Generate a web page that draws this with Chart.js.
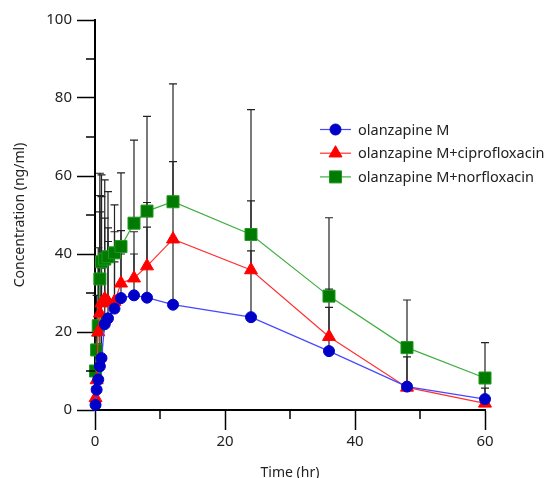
<!DOCTYPE html>
<html>
<head>
<meta charset="utf-8">
<script src="https://cdn.jsdelivr.net/npm/chart.js@4.4.1/dist/chart.umd.min.js"></script>
<style>
html, body { margin: 0; padding: 0; background: #fff; }
#wrap { width: 551px; height: 478px; }
</style>
</head>
<body>
<div id="wrap"><canvas id="pkChart" width="551" height="478"></canvas></div>
<script>
// sampling times (hr)
var times = [0.083, 0.25, 0.5, 0.75, 1, 1.5, 2, 3, 4, 6, 8, 12, 24, 36, 48, 60];

// mean concentrations (ng/ml)
var olzM = [1.3, 5.2, 7.8, 11.2, 13.3, 22, 23.5, 26, 28.7, 29.4, 28.8, 27, 23.8, 15.1, 6.0, 2.8];
var olzCipro = [3.1, 7.7, 20, 24.8, 27.4, 28.5, 27.8, 27.8, 32.5, 33.8, 36.9, 43.8, 35.9, 18.8, 5.8, 1.7];
var olzNorflo = [10, 15.4, 21.6, 33.6, 38, 38.7, 39.3, 40.3, 41.9, 47.9, 51, 53.4, 45, 29.2, 16, 8.2];

// SD (upper error bars only)
var sdM = [1.7, 4.8, 9.2, 39.6, 23.1, 16.5, 19.7, 12, 11.3, 10.6, 18.1, 17, 17, 11.2, 7.6, 2.8];
var sdCipro = [2.9, 6.3, 17.7, 30.2, 27.3, 20.7, 18.9, 17.9, 13.5, 11.9, 16.3, 19.9, 17.7, 12.2, 10.2, 7.8];
var sdNorflo = [9, 14, 20, 27.1, 22.3, 20.3, 16.7, 12.3, 18.9, 21.3, 24.3, 30.2, 32, 20.1, 12.2, 9.1];

var xTicks = [0, 20, 40, 60];
var xMinor = [10, 30, 50];
var yMinor = [10, 30, 50, 70, 90];

var fontFamily = '"Noto Sans", "Open Sans", sans-serif';

function pts(vals) {
    return times.map(function (t, i) { return { x: t, y: vals[i] }; });
}

var errorBars = {
    id: "errorBars",
    beforeDatasetsDraw: function (chart) {
        var ctx = chart.ctx;
        var yScale = chart.scales.y;
        ctx.save();
        ctx.strokeStyle = "#222";
        ctx.lineWidth = 1.2;
        chart.data.datasets.forEach(function (ds, i) {
            var meta = chart.getDatasetMeta(i);
            meta.data.forEach(function (p, j) {
                var top = yScale.getPixelForValue(ds.data[j].y + ds.sd[j]);
                ctx.beginPath();
                ctx.moveTo(p.x, p.y);
                ctx.lineTo(p.x, top);
                ctx.moveTo(p.x - 4, top);
                ctx.lineTo(p.x + 4, top);
                ctx.stroke();
            });
        });
        ctx.restore();
    },
};

var minorTicks = {
    id: "minorTicks",
    afterDraw: function (chart) {
        var ctx = chart.ctx;
        var xs = chart.scales.x, ys = chart.scales.y;
        var area = chart.chartArea;
        ctx.save();
        ctx.strokeStyle = "#000";
        ctx.lineWidth = 1.5;
        yMinor.forEach(function (v) {
            var y = ys.getPixelForValue(v);
            ctx.beginPath();
            ctx.moveTo(area.left - 9, y);
            ctx.lineTo(area.left, y);
            ctx.stroke();
        });
        xMinor.forEach(function (v) {
            var x = xs.getPixelForValue(v);
            ctx.beginPath();
            ctx.moveTo(x, area.bottom);
            ctx.lineTo(x, area.bottom + 9);
            ctx.stroke();
        });
        ctx.restore();
    },
};

var insideLegend = {
    id: "insideLegend",
    afterDraw: function (chart) {
        var ctx = chart.ctx;
        ctx.save();
        chart.data.datasets.forEach(function (ds, i) {
            var y = 129.5 + i * 23.7;
            ctx.strokeStyle = ds.borderColor;
            ctx.lineWidth = ds.borderWidth;
            ctx.beginPath();
            ctx.moveTo(320, y);
            ctx.lineTo(351, y);
            ctx.stroke();
            ctx.fillStyle = ds.pointBackgroundColor;
            ctx.strokeStyle = ds.pointBorderColor;
            ctx.lineWidth = 1;
            Chart.helpers.drawPoint(ctx, {
                pointStyle: ds.pointStyle,
                radius: ds.pointRadius,
                borderWidth: 1,
                rotation: 0,
            }, 335.5, y);
            ctx.fillStyle = "#222";
            ctx.font = "14.5px " + fontFamily;
            ctx.textBaseline = "middle";
            ctx.textAlign = "left";
            ctx.fillText(ds.label, 358, y + 1);
        });
        ctx.restore();
    },
};

var ctx = document.getElementById("pkChart").getContext("2d");

var pkChart = new Chart(ctx, {
    type: "line",
    data: {
        datasets: [
            {
                label: "olanzapine M",
                data: pts(olzM),
                sd: sdM,
                borderColor: "#4747ff",
                borderWidth: 1.2,
                pointStyle: "circle",
                pointRadius: 5.5,
                pointBackgroundColor: "#0000c8",
                pointBorderColor: "#0000c8",
                pointBorderWidth: 1,
                clip: false,
            },
            {
                label: "olanzapine M+ciprofloxacin",
                data: pts(olzCipro),
                sd: sdCipro,
                borderColor: "#ff3030",
                borderWidth: 1.2,
                pointStyle: "triangle",
                pointRadius: 7.5,
                pointBackgroundColor: "#ff0000",
                pointBorderColor: "#ff0000",
                pointBorderWidth: 1,
                clip: false,
            },
            {
                label: "olanzapine M+norfloxacin",
                data: pts(olzNorflo),
                sd: sdNorflo,
                borderColor: "#3fae3f",
                borderWidth: 1.2,
                pointStyle: "rect",
                pointRadius: 8.5,
                pointBackgroundColor: "#007a00",
                pointBorderColor: "#1f991f",
                pointBorderWidth: 1,
                clip: false,
            },
        ],
    },
    options: {
        responsive: false,
        animation: false,
        layout: {
            padding: { top: 20, right: 66, left: 0, bottom: 0 },
        },
        plugins: {
            legend: { display: false },
            tooltip: { enabled: false },
        },
        scales: {
            x: {
                type: "linear",
                min: 0,
                max: 60,
                afterFit: function (scale) { scale.height = 68; },
                afterBuildTicks: function (scale) {
                    scale.ticks = xTicks.map(function (v) { return { value: v }; });
                },
                border: { color: "#000", width: 2 },
                grid: {
                    drawOnChartArea: false,
                    drawTicks: true,
                    tickLength: 20,
                    tickColor: "#000",
                    tickWidth: 1.5,
                },
                ticks: {
                    color: "#222",
                    padding: 3,
                    maxRotation: 0,
                    font: { family: fontFamily, size: 15 },
                },
                title: {
                    display: true,
                    text: "Time (hr)",
                    color: "#222",
                    padding: { top: 0, bottom: -3 },
                    font: { family: fontFamily, size: 14 },
                },
            },
            y: {
                min: 0,
                max: 100,
                afterFit: function (scale) { scale.width = 95; },
                border: { color: "#000", width: 2 },
                grid: {
                    drawOnChartArea: false,
                    drawTicks: true,
                    tickLength: 18,
                    tickColor: "#000",
                    tickWidth: 1.5,
                },
                ticks: {
                    stepSize: 20,
                    color: "#222",
                    padding: 5,
                    font: { family: fontFamily, size: 15 },
                },
                title: {
                    display: true,
                    text: "Concentration (ng/ml)",
                    color: "#222",
                    padding: { top: 12, bottom: 0 },
                    font: { family: fontFamily, size: 14 },
                },
            },
        },
    },
    plugins: [errorBars, minorTicks, insideLegend],
});
</script>
</body>
</html>
